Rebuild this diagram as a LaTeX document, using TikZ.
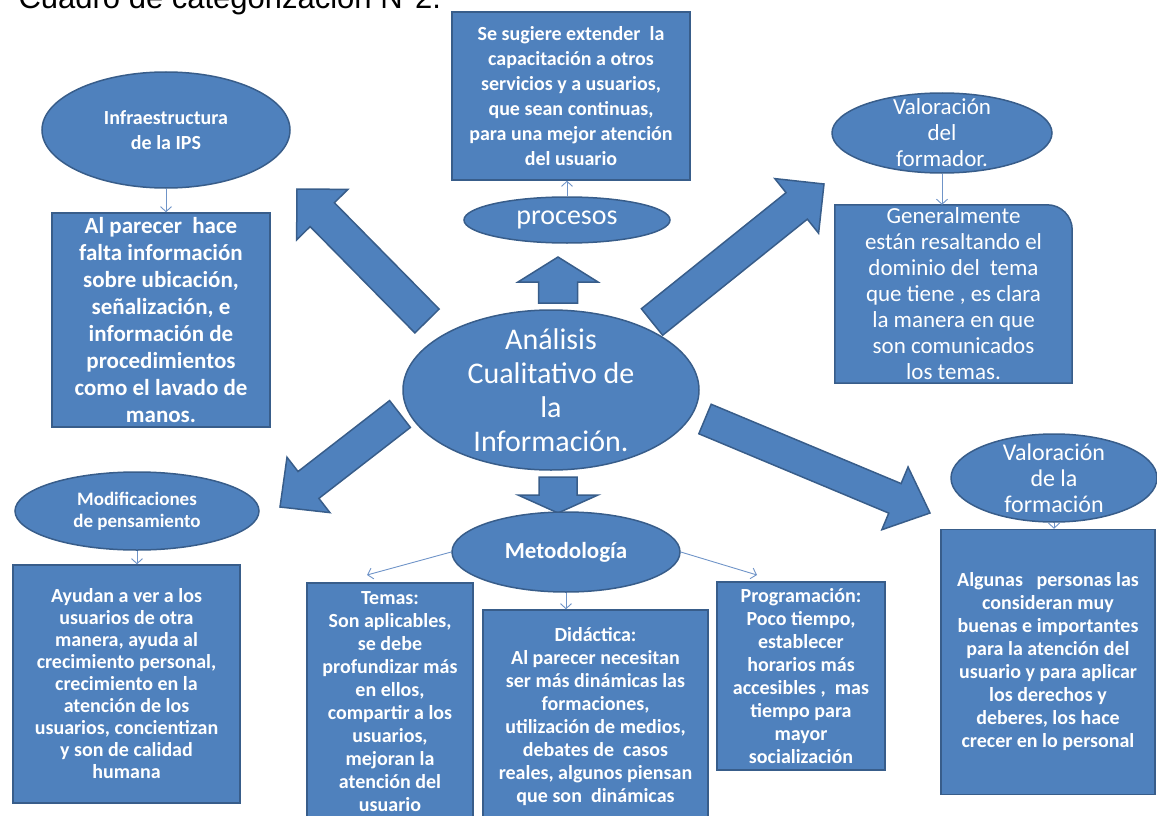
\documentclass[tikz,border=0pt]{standalone}
\usepackage{fontspec}
\setmainfont{Carlito}
\newfontfamily\titlefont{Liberation Sans}
\usetikzlibrary{shapes.geometric,calc,backgrounds,arrows.meta}

\definecolor{boxblue}{HTML}{4F81BD}
\definecolor{rimblue}{HTML}{385D8A}
\definecolor{linkblue}{HTML}{6F94C8}

\tikzset{
  blockfill/.style={fill=boxblue, draw=rimblue, line width=1.5pt, line join=miter},
  bubble/.style={ellipse, blockfill, inner sep=0pt},
  bubtext/.style={text=white, align=center, inner sep=0pt},
  card/.style={rectangle, blockfill, text=white, align=center, inner sep=0pt},
  cardtext/.style={rectangle, text=white, align=center, inner sep=0pt},
  link/.style={draw=linkblue, line width=0.9pt, ->, >={Straight Barb[length=5pt,width=11pt]}}
}

% tail, tip, half shaft, half head, head length
\newcommand{\blockarrow}[5]{%
  \path ($(#2)!#5!(#1)$) coordinate (ba-base);
  \filldraw[blockfill] ($(#1)!#3!90:(#2)$) -- ($(ba-base)!#3!90:(#2)$)
    -- ($(ba-base)!#4!90:(#2)$) -- (#2) -- ($(ba-base)!#4!-90:(#2)$)
    -- ($(ba-base)!#3!-90:(#2)$) -- ($(#1)!#3!-90:(#2)$) -- cycle;
}

\begin{document}
\begin{tikzpicture}[x=1pt,y=-1pt]
\useasboundingbox (0,0) rectangle (1157,816);

\node[anchor=base west, font=\titlefont\fontsize{31}{36}\selectfont] (title) at (15,9) {Cuadro de categorización N°2.};

% centre
\node[bubble, minimum width=296, minimum height=160,
  label={[bubtext, font=\fontsize{30}{34}\selectfont]center:{Análisis\\Cualitativo de\\la\\Información.}}] (core) at (551,390) {};

% block arrows
\coordinate (nwTail) at (427,321); \coordinate (nwTip) at (297,189);
\coordinate (neTail) at (652,322); \coordinate (neTip) at (824,184);
\coordinate (seTail) at (705,419); \coordinate (seTip) at (930,513);
\coordinate (swTail) at (400,414); \coordinate (swTip) at (280,507);
\coordinate (upTail) at (558,303); \coordinate (upTip) at (558,257);
\coordinate (dnTail) at (558,477); \coordinate (dnTip) at (558,513);
\foreach \a/\b/\sw/\hw/\hl in {nwTail/nwTip/17pt/36pt/36pt, neTail/neTip/17pt/35pt/35pt,
  seTail/seTip/16pt/34pt/38pt, swTail/swTip/17pt/35pt/36pt,
  upTail/upTip/19.5pt/40pt/25pt, dnTail/dnTip/19pt/40pt/18pt}
  \blockarrow{\a}{\b}{\sw}{\hw}{\hl};

% top
\node[bubble, minimum width=206, minimum height=46,
  label={[bubtext, font=\fontsize{28}{30}\selectfont]center:procesos}] (proc) at (567,220) {};
\node[card, minimum width=238, minimum height=168, font=\bfseries\fontsize{20}{25}\selectfont] (procBox) at (571,96)
  {Se sugiere extender\ \ la\\capacitación a otros\\servicios y a usuarios,\\que sean continuas,\\para una mejor atención\\del usuario};

% upper left
\node[bubble, minimum width=248, minimum height=116,
  label={[bubtext, font=\bfseries\fontsize{20}{25}\selectfont]center:{Infraestructura\\de la IPS}}] (infra) at (166,130) {};
\node[card, minimum width=218, minimum height=214, font=\bfseries\fontsize{23}{27}\selectfont] (infraBox) at (161,320)
  {Al parecer\ \ hace\\falta información\\sobre ubicación,\\señalización, e\\información de\\procedimientos\\como el lavado de\\manos.};

% upper right
\node[bubble, minimum width=220, minimum height=80,
  label={[bubtext, font=\fontsize{23}{26}\selectfont]center:{Valoración\\del\\formador.}}] (formador) at (942,133) {};
\node[cardtext, minimum width=237, minimum height=178, font=\fontsize{23}{26}\selectfont] (formadorBox) at (953.5,294)
  {Generalmente\\están resaltando el\\dominio del\ \ tema\\que tiene , es clara\\la manera en que\\son comunicados\\los temas.};
\begin{scope}[on background layer]
  \filldraw[blockfill] (formadorBox.south west) -- (formadorBox.north west)
    -- ([xshift=-25pt]formadorBox.north east) arc[start angle=90, end angle=0, radius=25pt]
    -- (formadorBox.south east) -- cycle;
\end{scope}

% lower right
\node[bubble, minimum width=206, minimum height=88,
  label={[bubtext, font=\fontsize{24}{26}\selectfont]center:{Valoración\\de la\\formación}}] (forma) at (1054,478) {};
\node[card, minimum width=214, minimum height=265, font=\bfseries\fontsize{20}{23}\selectfont] (formaBox) at (1048,662)
  {Algunas\ \ \ personas las\\consideran muy\\buenas e importantes\\para la atención del\\usuario y para aplicar\\los derechos y\\deberes, los hace\\crecer en lo personal};

% lower left
\node[bubble, minimum width=244, minimum height=78,
  label={[bubtext, font=\bfseries\fontsize{19}{22}\selectfont]center:{Modificaciones\\de pensamiento}}] (modif) at (137,511) {};
\node[card, minimum width=227, minimum height=238, font=\bfseries\fontsize{20}{22}\selectfont] (modifBox) at (126.5,684)
  {Ayudan a ver a los\\usuarios de otra\\manera, ayuda al\\crecimiento personal,\\crecimiento en la\\atención de los\\usuarios, concientizan\\y son de calidad\\humana};

% bottom
\node[bubble, minimum width=228, minimum height=80,
  label={[bubtext, font=\bfseries\fontsize{23}{26}\selectfont]center:Metodología}] (metodo) at (566,552) {};
\node[card, minimum width=166, minimum height=238, font=\bfseries\fontsize{20}{23}\selectfont] (temas) at (390,702)
  {Temas:\\Son aplicables,\\se debe\\profundizar más\\en ellos,\\compartir a los\\usuarios,\\mejoran la\\atención del\\usuario};
\node[card, minimum width=225, minimum height=214, font=\bfseries\fontsize{20}{23}\selectfont] (didac) at (595.5,717)
  {Didáctica:\\Al parecer necesitan\\ser más dinámicas las\\formaciones,\\utilización de medios,\\debates de\ \ casos\\reales, algunos piensan\\que son\ \ dinámicas};
\node[card, minimum width=168, minimum height=188, font=\bfseries\fontsize{20}{23}\selectfont] (progra) at (801,676)
  {Programación:\\Poco tiempo,\\establecer\\horarios más\\accesibles ,\ \ mas\\tiempo para\\mayor\\socialización};

% thin links
\coordinate (temasIn) at (367,575);
\coordinate (prograIn) at (757,575);
\draw[link] (infra.south) -- (infra.south |- infraBox.north);
\draw[link] (proc.north) -- (proc.north |- procBox.south);
\draw[link] (formador.south) -- (formador.south |- formadorBox.north);
\draw[link] (modif.south) -- (modif.south |- modifBox.north);
\draw[link] (forma.south) -- (forma.south |- formaBox.north);
\draw[link] (metodo.south) -- (metodo.south |- didac.north);
\draw[link] (metodo.west) -- (temasIn);
\draw[link] (metodo.east) -- (prograIn);

\end{tikzpicture}
\end{document}
